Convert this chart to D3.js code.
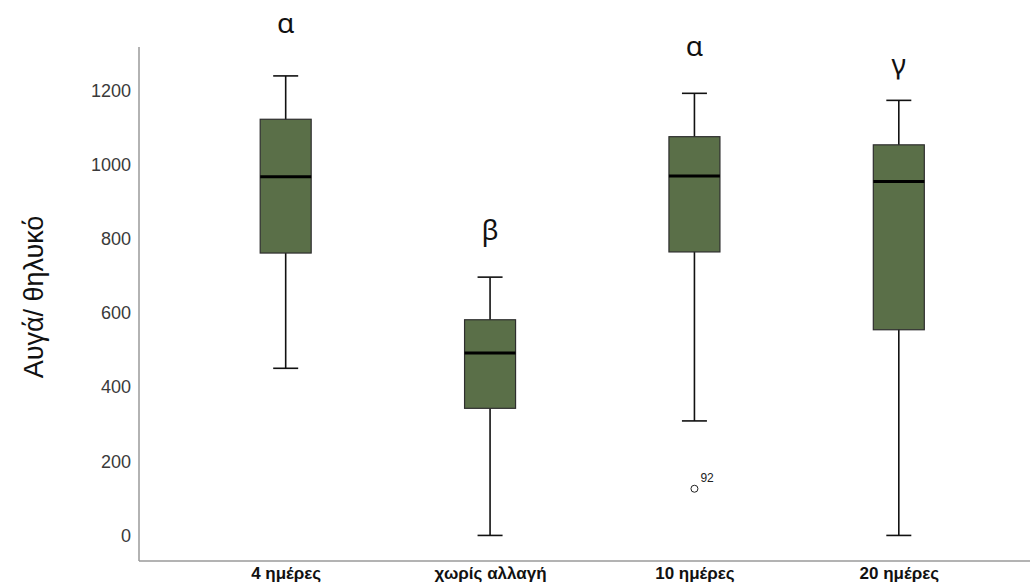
<!DOCTYPE html>
<html>
<head>
<meta charset="utf-8">
<script src="https://cdn.jsdelivr.net/npm/d3@7"></script>
<style>
  body { margin: 0; background: #fff; }
  svg { display: block; }
</style>
</head>
<body>
<div id="chart"></div>
<script>
// groups on the x axis
const categories = ["4 ημέρες", "χωρίς αλλαγή", "10 ημέρες", "20 ημέρες"];
// box summaries
const whiskerLow  = [451, 0, 309, 0];
const q1          = [762, 343, 765, 555];
const medians     = [968, 492, 970, 955];
const q3          = [1123, 582, 1076, 1054];
const whiskerHigh = [1240, 697, 1193, 1174];
// outliers: group index, value, case label
const outliers = [{group: 2, value: 126, label: "92"}];
// significance letters and the height they sit at (data units)
const letters = ["α", "β", "α", "γ"];
const letterY = [1356, 797, 1294, 1246];
const yTicks = [0, 200, 400, 600, 800, 1000, 1200];

const width = 1033, height = 587;
const svg = d3.select("#chart").append("svg")
    .attr("width", width)
    .attr("height", height);

const x = d3.scalePoint()
    .domain(categories)
    .range([183.5, 1001])
    .padding(0.5);

const y = d3.scaleLinear()
    .domain([-69, 1318])
    .range([561, 47]);

const boxW = 51;
const capW = 25;
const fill = "#5a6f48";

// axis lines
svg.append("line")
    .attr("x1", 139).attr("x2", 139)
    .attr("y1", y(1318)).attr("y2", y(-69))
    .attr("stroke", "#9a9a9a").attr("stroke-width", 1.5);
svg.append("line")
    .attr("x1", 139).attr("x2", 1030)
    .attr("y1", y(-69)).attr("y2", y(-69))
    .attr("stroke", "#9a9a9a").attr("stroke-width", 1.5);

// y tick labels through d3 axis, no tick marks
const yAxis = svg.append("g")
    .attr("transform", "translate(139,0)")
    .call(d3.axisLeft(y).tickValues(yTicks).tickFormat(d3.format("d")).tickSize(0).tickPadding(8));
yAxis.select(".domain").remove();
yAxis.selectAll("text")
    .style("font-family", "'Liberation Sans', Arial, sans-serif")
    .style("font-size", "18px")
    .attr("fill", "#3a3a3a");

// x labels
const xAxis = svg.append("g")
    .attr("transform", "translate(0," + y(-69) + ")")
    .call(d3.axisBottom(x).tickSize(0).tickPadding(6));
xAxis.select(".domain").remove();
xAxis.selectAll("text")
    .style("font-family", "'Liberation Sans', Arial, sans-serif")
    .style("font-size", "17px")
    .style("font-weight", "bold")
    .attr("fill", "#111");

const data = categories.map((c, i) => ({
    cat: c, lo: whiskerLow[i], q1: q1[i], med: medians[i], q3: q3[i], hi: whiskerHigh[i]
}));

const g = svg.selectAll(".box").data(data).enter().append("g").attr("class", "box");

// whiskers
g.append("line")
    .attr("x1", d => x(d.cat)).attr("x2", d => x(d.cat))
    .attr("y1", d => y(d.hi)).attr("y2", d => y(d.lo))
    .attr("stroke", "#111").attr("stroke-width", 1.6);
g.append("line")
    .attr("x1", d => x(d.cat) - capW / 2).attr("x2", d => x(d.cat) + capW / 2)
    .attr("y1", d => y(d.hi)).attr("y2", d => y(d.hi))
    .attr("stroke", "#111").attr("stroke-width", 1.6);
g.append("line")
    .attr("x1", d => x(d.cat) - capW / 2).attr("x2", d => x(d.cat) + capW / 2)
    .attr("y1", d => y(d.lo)).attr("y2", d => y(d.lo))
    .attr("stroke", "#111").attr("stroke-width", 1.6);

// boxes
g.append("rect")
    .attr("x", d => x(d.cat) - boxW / 2)
    .attr("width", boxW)
    .attr("y", d => y(d.q3))
    .attr("height", d => y(d.q1) - y(d.q3))
    .attr("fill", fill)
    .attr("stroke", "#2e2e2e").attr("stroke-width", 1.2);

// medians
g.append("line")
    .attr("x1", d => x(d.cat) - boxW / 2).attr("x2", d => x(d.cat) + boxW / 2)
    .attr("y1", d => y(d.med)).attr("y2", d => y(d.med))
    .attr("stroke", "#000").attr("stroke-width", 3);

// outliers
svg.selectAll(".outlier").data(outliers).enter().append("circle")
    .attr("cx", d => x(categories[d.group]))
    .attr("cy", d => y(d.value))
    .attr("r", 3.5)
    .attr("fill", "#fff")
    .attr("stroke", "#222").attr("stroke-width", 1);
svg.selectAll(".outlier-label").data(outliers).enter().append("text")
    .attr("x", d => x(categories[d.group]) + 6)
    .attr("y", d => y(d.value) - 7)
    .style("font-family", "'Liberation Sans', Arial, sans-serif")
    .style("font-size", "12px")
    .attr("fill", "#222")
    .text(d => d.label);

// significance letters
svg.selectAll(".letter").data(letters).enter().append("text")
    .attr("x", (d, i) => x(categories[i]))
    .attr("y", (d, i) => y(letterY[i]))
    .attr("text-anchor", "middle")
    .style("font-family", "'Noto Sans', 'Open Sans', sans-serif")
    .style("font-size", "28px")
    .attr("fill", "#111")
    .text(d => d);

// y title
svg.append("text")
    .attr("transform", "translate(43,297) rotate(-90)")
    .attr("text-anchor", "middle")
    .style("font-family", "'Liberation Sans', Arial, sans-serif")
    .style("font-size", "27px")
    .attr("fill", "#111")
    .text("Αυγά/ θηλυκό");
</script>
</body>
</html>
